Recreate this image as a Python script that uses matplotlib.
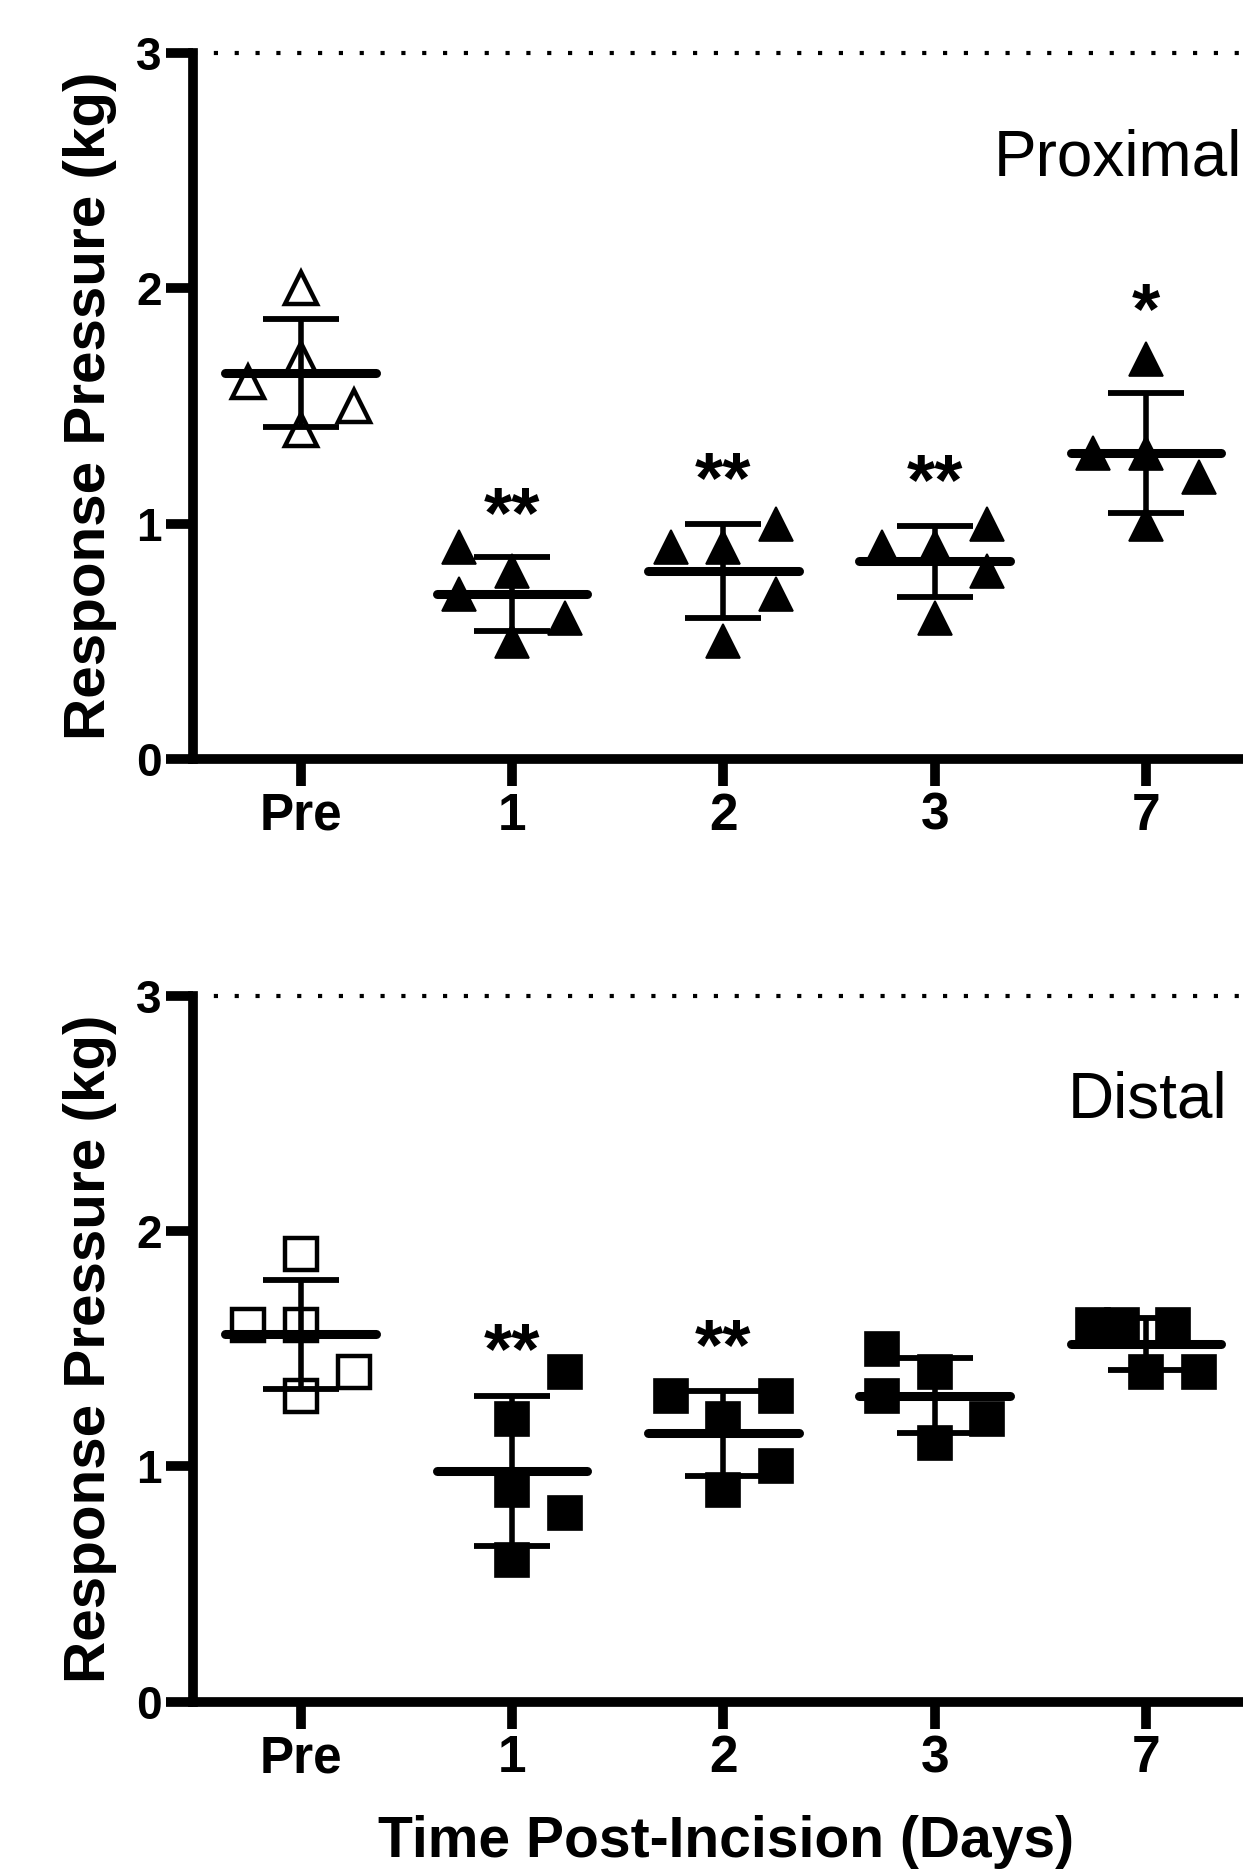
import numpy as np
import matplotlib
matplotlib.use("Agg")
import matplotlib.pyplot as plt

plt.rcParams["font.family"] = ["Liberation Sans", "DejaVu Sans"]

# ---- data (kg), five animals per time point ----
categories = ["Pre", "1", "2", "3", "7"]

proximal_values = [
    [2.0, 1.6, 1.7, 1.5, 1.4],
    [0.9, 0.7, 0.8, 0.6, 0.5],
    [0.9, 0.9, 1.0, 0.7, 0.5],
    [0.9, 0.9, 1.0, 0.8, 0.6],
    [1.7, 1.3, 1.3, 1.2, 1.0],
]
# scatter column of each point (GraphPad-style spreading)
proximal_cols = [
    [0, -1, 0, 1, 0],
    [-1, -1, 0, 1, 0],
    [-1, 0, 1, 1, 0],
    [-1, 0, 1, 1, 0],
    [0, -1, 0, 1, 0],
]
proximal_stars = ["", "**", "**", "**", "*"]
proximal_star_y = [None, 1.12, 1.27, 1.26, 1.985]

distal_values = [
    [1.9, 1.6, 1.6, 1.4, 1.3],
    [1.4, 1.2, 0.9, 0.8, 0.6],
    [1.3, 1.3, 1.2, 1.0, 0.9],
    [1.5, 1.4, 1.3, 1.2, 1.1],
    [1.6, 1.6, 1.6, 1.4, 1.4],
]
distal_cols = [
    [0, -1, 0, 1, 0],
    [1, 0, 0, 1, 0],
    [-1, 1, 0, 1, 0],
    [-1, 0, -1, 1, 0],
    [-1, -0.46, 0.52, 0, 1],
]
distal_stars = ["", "**", "**", "", ""]
distal_star_y = [None, 1.575, 1.59, None, None]

W, H, DPI = 1243, 1873, 100
PX_PER_UNIT = 211.3
XMIN, XMAX = -0.51, 5.0
COL_STEP = 0.25
MEAN_HALF = 0.357
CAP_HALF = 0.18


def draw_panel(ax, values, cols, marker, stars, star_y, name, name_x):
    for i, (vals, cs) in enumerate(zip(values, cols)):
        vals = np.asarray(vals, dtype=float)
        xs = i + COL_STEP * np.asarray(cs, dtype=float)
        if i == 0:
            ax.plot(xs, vals, ls="none", marker=marker, ms=23, mfc="white",
                    mec="black", mew=3.2, zorder=2)
        else:
            ax.plot(xs, vals, ls="none", marker=marker, ms=25, mfc="black",
                    mec="black", mew=1.2, zorder=2)
        mean = vals.mean()
        sd = vals.std(ddof=1)
        ax.hlines(mean, i - MEAN_HALF, i + MEAN_HALF, color="black", lw=6.5,
                  capstyle="round", zorder=3)
        ax.vlines(i, mean - sd, mean + sd, color="black", lw=4, zorder=3)
        ax.hlines([mean - sd, mean + sd], i - CAP_HALF, i + CAP_HALF,
                  color="black", lw=4.2, zorder=3)
        if stars[i]:
            ax.annotate(stars[i], (i, star_y[i]), xytext=(0, -30),
                        textcoords="offset points", ha="center", va="baseline",
                        fontsize=52, fontweight="bold")

    ax.axhline(3, color="black", lw=3, ls=(0, (1, 4)), zorder=1, clip_on=False)
    ax.text(name_x, 2.48, name, fontsize=46, ha="left", va="baseline")

    ax.set_xlim(XMIN, XMAX)
    ax.set_ylim(0, 3)
    ax.set_xticks(range(len(categories)))
    ax.set_xticklabels(categories)
    ax.set_yticks([0, 1, 2, 3])
    ax.spines["top"].set_visible(False)
    ax.spines["right"].set_visible(False)
    for s in ("left", "bottom"):
        ax.spines[s].set_linewidth(7)
    ax.tick_params(axis="both", length=19.5, width=7, direction="out")
    ax.tick_params(axis="x", labelsize=37, pad=4)
    ax.tick_params(axis="y", labelsize=33, pad=3)
    for lab in ax.get_xticklabels() + ax.get_yticklabels():
        lab.set_fontweight("bold")


fig = plt.figure(figsize=(W / DPI, H / DPI), dpi=DPI)
ax_w = (XMAX - XMIN) * PX_PER_UNIT / W
ax_h = 706 / H
ax_top = fig.add_axes([193 / W, (H - 759) / H, ax_w, ax_h])
ax_bot = fig.add_axes([193 / W, (H - 1701.6) / H, ax_w, ax_h])

draw_panel(ax_top, proximal_values, proximal_cols, "^", proximal_stars,
           proximal_star_y, "Proximal", 3.28)
draw_panel(ax_bot, distal_values, distal_cols, "s", distal_stars,
           distal_star_y, "Distal", 3.63)

for yc in (406, 1349):
    fig.text(90 / W, 1 - yc / H, "Response Pressure (kg)", rotation=90,
             ha="center", va="center", fontsize=42, fontweight="bold")
fig.text(726 / W, (H - 1857) / H, "Time Post-Incision (Days)", ha="center",
         va="baseline", fontsize=41, fontweight="bold")

fig.savefig("out.png", dpi=DPI)
